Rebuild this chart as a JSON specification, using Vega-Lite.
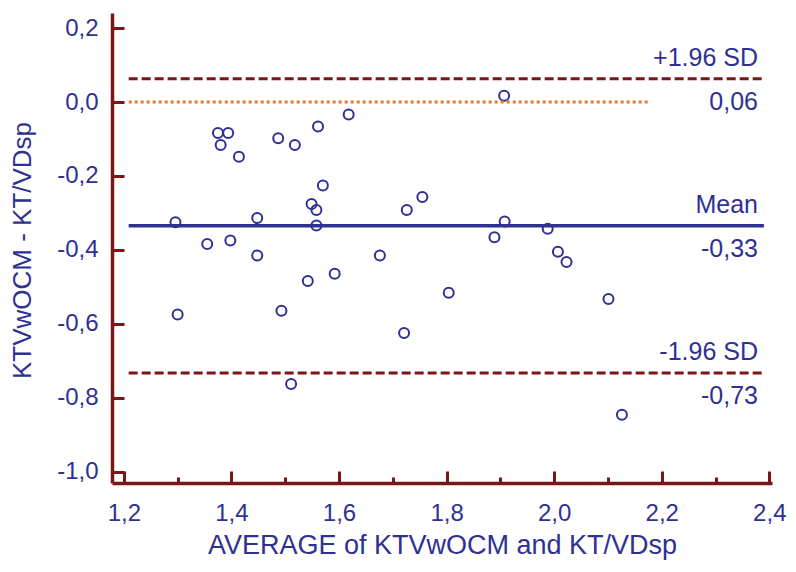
{
  "$schema": "https://vega.github.io/schema/vega-lite/v6.json",
  "width": 660,
  "height": 470,
  "autosize": {"type": "none"},
  "padding": {"left": 112, "top": 13, "right": 24, "bottom": 89},
  "background": "white",
  "config": {
    "view": {"stroke": null},
    "font": "Liberation Sans"
  },
  "datasets": {
    "points": [
      {"avg": 1.375, "diff": -0.084},
      {"avg": 1.394, "diff": -0.084},
      {"avg": 1.380, "diff": -0.116},
      {"avg": 1.414, "diff": -0.148},
      {"avg": 1.487, "diff": -0.098},
      {"avg": 1.518, "diff": -0.116},
      {"avg": 1.561, "diff": -0.066},
      {"avg": 1.618, "diff": -0.034},
      {"avg": 1.570, "diff": -0.226},
      {"avg": 1.549, "diff": -0.276},
      {"avg": 1.558, "diff": -0.292},
      {"avg": 1.558, "diff": -0.334},
      {"avg": 1.296, "diff": -0.325},
      {"avg": 1.448, "diff": -0.314},
      {"avg": 1.355, "diff": -0.384},
      {"avg": 1.398, "diff": -0.375},
      {"avg": 1.448, "diff": -0.415},
      {"avg": 1.676, "diff": -0.415},
      {"avg": 1.726, "diff": -0.292},
      {"avg": 1.755, "diff": -0.257},
      {"avg": 1.889, "diff": -0.366},
      {"avg": 1.907, "diff": 0.017},
      {"avg": 1.300, "diff": -0.575},
      {"avg": 1.493, "diff": -0.565},
      {"avg": 1.542, "diff": -0.484},
      {"avg": 1.592, "diff": -0.465},
      {"avg": 1.721, "diff": -0.625},
      {"avg": 1.804, "diff": -0.516},
      {"avg": 1.511, "diff": -0.763},
      {"avg": 1.908, "diff": -0.323},
      {"avg": 1.988, "diff": -0.343},
      {"avg": 2.007, "diff": -0.405},
      {"avg": 2.023, "diff": -0.433},
      {"avg": 2.101, "diff": -0.533},
      {"avg": 2.126, "diff": -0.846}
    ],
    "limits": [
      {"y": 0.063},
      {"y": -0.733}
    ],
    "mean": [
      {"y": -0.335}
    ],
    "zero": [
      {"y": 0}
    ],
    "labels": [
      {"y": 0.063, "above": "+1.96 SD", "below": "0,06"},
      {"y": -0.335, "above": "Mean", "below": "-0,33"},
      {"y": -0.733, "above": "-1.96 SD", "below": "-0,73"}
    ]
  },
  "layer": [
    {
      "data": {"name": "points"},
      "mark": {"type": "point", "shape": "circle", "filled": false, "stroke": "#2e3192", "strokeWidth": 2, "size": 100, "opacity": 1},
      "encoding": {
        "x": {
          "field": "avg", "type": "quantitative",
          "scale": {"domain": [1.178, 2.405], "nice": false, "zero": false},
          "axis": {
            "title": "AVERAGE of KTVwOCM and KT/VDsp",
            "values": [1.2, 1.3, 1.4, 1.5, 1.6, 1.7, 1.8, 1.9, 2.0, 2.1, 2.2, 2.3, 2.4],
            "labelExpr": "round(datum.value*10) % 2 == 0 ? replace(format(datum.value, '.1f'), '.', ',') : ''",
            "grid": false,
            "domainColor": "#7a1518", "domainWidth": 3.5,
            "tickColor": "#7a1518", "tickWidth": 3,
            "tickSize": {"condition": {"test": "round(datum.value*10) % 2 == 0", "value": -12}, "value": -6},
            "labelPadding": 30,
            "labelFont": "Liberation Sans", "labelFontSize": 24, "labelColor": "#2e3192",
            "labelOverlap": false, "labelFlush": false, "labelBound": false,
            "titleFont": "Liberation Sans", "titleFontSize": 27, "titleFontWeight": "normal", "titleColor": "#2e3192",
            "titleBaseline": "alphabetic", "titleY": 70
          }
        },
        "y": {
          "field": "diff", "type": "quantitative",
          "scale": {"domain": [-1.031, 0.241], "nice": false, "zero": false},
          "axis": {
            "title": "KTVwOCM - KT/VDsp",
            "values": [-1.0, -0.9, -0.8, -0.7, -0.6, -0.5, -0.4, -0.3, -0.2, -0.1, 0.0, 0.1, 0.2],
            "labelExpr": "round(datum.value*10) % 2 == 0 ? replace(replace(format(datum.value, '.1f'), '.', ','), '\u2212', '-') : ''",
            "grid": false,
            "domainColor": "#7a1518", "domainWidth": 3.5,
            "tickColor": "#7a1518", "tickWidth": 3,
            "tickSize": {"condition": {"test": "round(datum.value*10) % 2 == 0", "value": -12}, "value": -7},
            "labelPadding": 26,
            "labelFont": "Liberation Sans", "labelFontSize": 24, "labelColor": "#2e3192",
            "labelOverlap": false, "labelFlush": false, "labelBound": false,
            "titleFont": "Liberation Sans", "titleFontSize": 26, "titleFontWeight": "normal", "titleColor": "#2e3192",
            "titleBaseline": "alphabetic", "titleX": -82, "titleY": 237
          }
        }
      }
    },
    {
      "data": {"name": "limits"},
      "mark": {"type": "rule", "stroke": "#7a1518", "strokeWidth": 3, "strokeDash": [9, 4]},
      "encoding": {
        "x": {"datum": 1.209, "type": "quantitative"},
        "x2": {"datum": 2.39},
        "y": {"field": "y", "type": "quantitative"}
      }
    },
    {
      "data": {"name": "zero"},
      "mark": {"type": "rule", "stroke": "#e8772e", "strokeWidth": 3, "strokeDash": [3, 3]},
      "encoding": {
        "x": {"datum": 1.209, "type": "quantitative"},
        "x2": {"datum": 2.177},
        "y": {"field": "y", "type": "quantitative"}
      }
    },
    {
      "data": {"name": "mean"},
      "mark": {"type": "rule", "stroke": "#2e3192", "strokeWidth": 3.5},
      "encoding": {
        "x": {"datum": 1.209, "type": "quantitative"},
        "x2": {"datum": 2.39},
        "y": {"field": "y", "type": "quantitative"}
      }
    },
    {
      "data": {"name": "labels"},
      "mark": {"type": "text", "align": "right", "baseline": "alphabetic", "dy": -13, "font": "Liberation Sans", "fontSize": 25, "color": "#2e3192"},
      "encoding": {
        "x": {"datum": 2.379, "type": "quantitative"},
        "y": {"field": "y", "type": "quantitative"},
        "text": {"field": "above"}
      }
    },
    {
      "data": {"name": "labels"},
      "mark": {"type": "text", "align": "right", "baseline": "alphabetic", "dy": 31, "font": "Liberation Sans", "fontSize": 25, "color": "#2e3192"},
      "encoding": {
        "x": {"datum": 2.379, "type": "quantitative"},
        "y": {"field": "y", "type": "quantitative"},
        "text": {"field": "below"}
      }
    }
  ]
}
